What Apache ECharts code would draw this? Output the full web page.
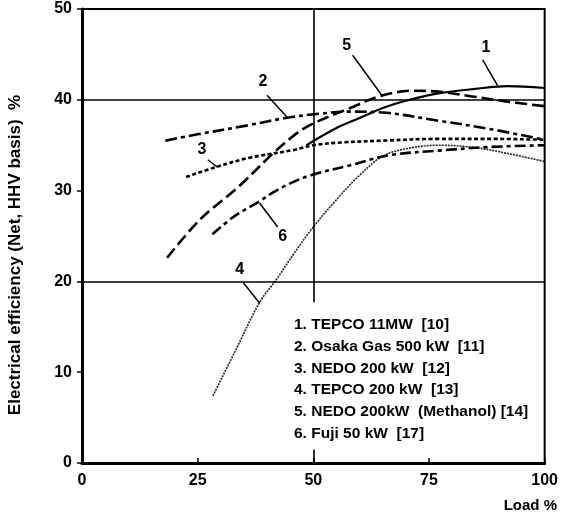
<!DOCTYPE html>
<html>
<head>
<meta charset="utf-8">
<script src="https://cdn.jsdelivr.net/npm/echarts@6/dist/echarts.min.js"></script>
<style>
html,body{margin:0;padding:0;background:#fff;}
#chart{width:561px;height:517px;}
</style>
</head>
<body>
<div id="chart"></div>
<script>
// ---- data ----
const xTicks = [0, 25, 50, 75, 100];
const yTicks = [0, 10, 20, 30, 40, 50];

const s1x = [48.5, 55, 60, 65, 70, 77, 85, 92, 100];
const s1y = [35.0, 36.9, 38.0, 39.1, 39.9, 40.7, 41.2, 41.5, 41.3];

const s2x = [18, 25, 36, 44, 50, 58, 65, 77, 88, 100];
const s2y = [35.5, 36.2, 37.2, 38.0, 38.4, 38.7, 38.6, 37.7, 36.8, 35.6];

const s3x = [22.5, 29, 36, 46, 50, 56, 65, 77, 88, 100];
const s3y = [31.5, 32.6, 33.6, 34.5, 35.0, 35.3, 35.5, 35.7, 35.7, 35.6];

const s4x = [28.3, 33, 38.4, 42, 46, 50, 55, 60, 65, 70, 77, 84, 90, 100];
const s4y = [7.4, 12.2, 17.7, 20.2, 23.2, 26.0, 29.0, 31.7, 33.8, 34.6, 35.0, 34.8, 34.3, 33.2];

const s5x = [18.4, 25.5, 34, 41.3, 46.4, 50, 58, 64.4, 71.5, 77, 84, 92, 100];
const s5y = [22.6, 26.8, 30.5, 34.1, 36.3, 37.4, 39.1, 40.4, 41.0, 40.9, 40.4, 39.8, 39.3];

const s6x = [28.2, 33, 38, 41.3, 45, 49.5, 58, 66.5, 77, 88, 100];
const s6y = [25.2, 27.2, 28.7, 29.8, 30.8, 31.7, 32.8, 33.9, 34.4, 34.8, 35.0];

const legendLines = [
  '1. TEPCO 11MW  [10]',
  '2. Osaka Gas 500 kW  [11]',
  '3. NEDO 200 kW  [12]',
  '4. TEPCO 200 kW  [13]',
  '5. NEDO 200kW  (Methanol) [14]',
  '6. Fuji 50 kW  [17]'
];

// curve number labels (data coords) and leader lines
const tagNames = ['1', '2', '3', '4', '5', '6'];
const tagX = [87.3, 39.1, 25.9, 34.1, 57.2, 43.4];
const tagY = [45.7, 42.0, 34.5, 21.3, 46.0, 24.9];
const leadFromX = [86.6, 40.0, 27.2, 34.8, 58.5, 38.4];
const leadFromY = [44.4, 40.5, 33.4, 19.9, 44.9, 28.6];
const leadToX = [89.8, 44.3, 29.2, 38.4, 64.8, 42.3];
const leadToY = [41.6, 38.1, 32.6, 17.6, 40.5, 26.0];

// reference lines
const refY = [20, 40];
const refX = 50;
const refXLow = 17.7;

const FONT = 'Liberation Sans, Arial, sans-serif';
const zip = (xs, ys) => xs.map((x, i) => [x, ys[i]]);

const chart = echarts.init(document.getElementById('chart'), null, {renderer: 'canvas'});

function lineSeries(name, xs, ys, style) {
  return {
    name: name, type: 'line', data: zip(xs, ys), smooth: 0.35,
    symbol: 'none', silent: true, z: 3,
    lineStyle: Object.assign({color: '#000', width: 2.2, opacity: 1}, style)
  };
}

const refSeries = {
  type: 'line', data: [], silent: true, z: 2,
  markLine: {
    silent: true, symbol: 'none', animation: false,
    label: {show: false},
    lineStyle: {color: '#000', width: 1.6, type: 'solid', opacity: 1},
    data: refY.map(v => ({yAxis: v})).concat([
      [{coord: [refX, 50]}, {coord: [refX, refXLow]}],
      [{coord: [refX, 0]}, {coord: [refX, 1.5]}]
    ])
  }
};

const leaderSeries = {
  type: 'line', data: [], silent: true, z: 4,
  markLine: {
    silent: true, symbol: 'none', animation: false,
    label: {show: false},
    lineStyle: {color: '#000', width: 1.5, type: 'solid', opacity: 1},
    data: tagNames.map((n, i) => [{coord: [leadFromX[i], leadFromY[i]]}, {coord: [leadToX[i], leadToY[i]]}])
  }
};

const tagSeries = {
  type: 'scatter', silent: true, symbolSize: 1, z: 5,
  itemStyle: {opacity: 0},
  data: tagNames.map((n, i) => ({value: [tagX[i], tagY[i]], name: n})),
  label: {
    show: true, position: 'inside', formatter: p => p.name, opacity: 1,
    color: '#000', fontFamily: FONT, fontWeight: 'bold', fontSize: 16
  }
};

chart.setOption({
  animation: false,
  backgroundColor: '#fff',
  grid: {left: 82, right: 16, top: 9, bottom: 54, show: true, borderColor: '#000', borderWidth: 2, backgroundColor: 'transparent'},
  xAxis: {
    type: 'value', min: 0, max: 100, interval: 25,
    axisLine: {show: true, onZero: false, lineStyle: {color: '#000', width: 3}},
    axisTick: {show: true, inside: true, length: 5, lineStyle: {color: '#000', width: 1.5}},
    splitLine: {show: false},
    axisLabel: {color: '#000', fontFamily: FONT, fontWeight: 'bold', fontSize: 16, margin: 10,
      formatter: v => xTicks.includes(v) ? String(v) : ''}
  },
  yAxis: {
    type: 'value', min: 0, max: 50, interval: 10,
    axisLine: {show: true, onZero: false, lineStyle: {color: '#000', width: 3}},
    axisTick: {show: true, inside: false, length: 5, lineStyle: {color: '#000', width: 1.5}},
    splitLine: {show: false},
    axisLabel: {color: '#000', fontFamily: FONT, fontWeight: 'bold', fontSize: 16, margin: 10,
      formatter: v => yTicks.includes(v) ? String(v) : ''}
  },
  series: [
    refSeries,
    lineSeries('TEPCO 11MW', s1x, s1y, {width: 2.2, type: 'solid'}),
    lineSeries('Osaka Gas 500 kW', s2x, s2y, {width: 2.6, type: [12, 4, 4, 4]}),
    lineSeries('NEDO 200 kW', s3x, s3y, {width: 2.6, type: [4, 2.5]}),
    lineSeries('TEPCO 200 kW', s4x, s4y, {width: 1.6, color: '#222', type: [2, 1]}),
    lineSeries('NEDO 200kW (Methanol)', s5x, s5y, {width: 2.6, type: [12, 5]}),
    lineSeries('Fuji 50 kW', s6x, s6y, {width: 2.6, type: [11, 4, 4, 4]}),
    leaderSeries,
    tagSeries
  ],
  graphic: [
    {type: 'text', left: 294, top: 314, silent: true, z: 10,
      style: {text: legendLines.join('\n'), fill: '#000', font: 'bold 15.5px ' + FONT, lineHeight: 21.7}},
    {type: 'text', right: 4, top: 498, silent: true, z: 10,
      style: {text: 'Load %', fill: '#000', font: 'bold 15px ' + FONT}},
    {type: 'text', x: 15, y: 255, rotation: Math.PI / 2, silent: true, z: 10,
      style: {text: 'Electrical efficiency (Net, HHV basis)  %', fill: '#000',
        font: 'bold 17px ' + FONT, align: 'center', verticalAlign: 'middle'}}
  ]
});
</script>
</body>
</html>
